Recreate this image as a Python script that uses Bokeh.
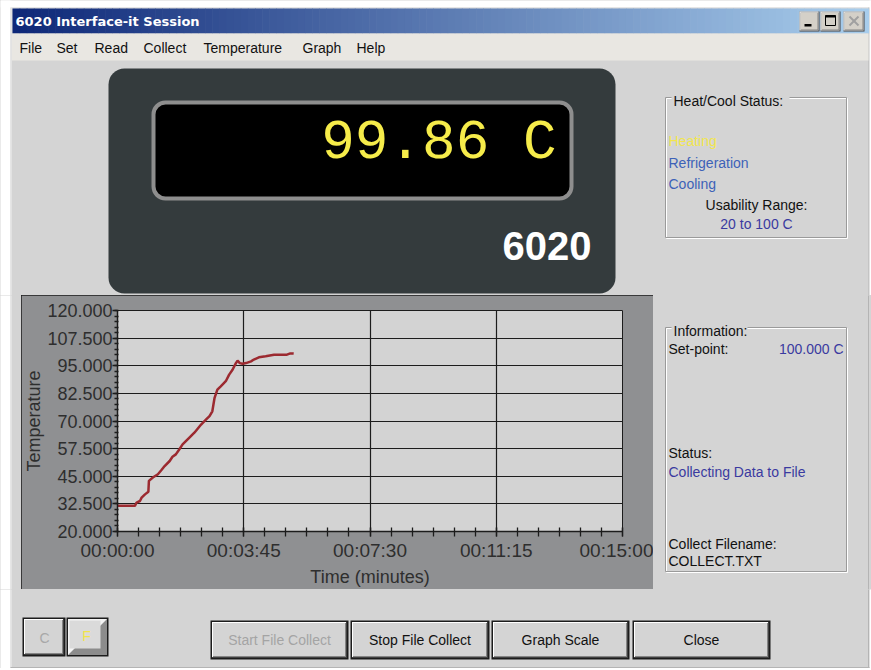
import numpy as np
from bokeh.plotting import figure
from bokeh.layouts import column, row
from bokeh.models import Range1d, FixedTicker, NumeralTickFormatter
from bokeh.core.properties import value
from bokeh.embed import file_html
from bokeh.resources import INLINE

# ---------------- data ----------------
time_s = [0, 31, 34, 40, 43, 49, 55, 56, 63, 72, 78, 84, 93, 98, 104, 110, 116, 125, 137, 149,
          158, 164, 169, 171, 173, 178, 184, 193, 199, 205, 211, 214, 218, 223, 229, 238, 243,
          252, 264, 279, 302, 308, 314]
temperature_c = [31.6, 31.6, 33.1, 33.8, 35.3, 36.8, 38.0, 42.9, 44.4, 45.9, 47.7, 49.6, 51.9,
                 53.8, 54.9, 57.1, 59.4, 61.7, 64.7, 68.4, 70.7, 72.2, 74.4, 77.5, 80.5, 84.2,
                 85.7, 88.0, 91.0, 93.2, 96.2, 97.3, 96.2, 95.9, 96.2, 97.0, 97.8, 98.8, 99.3,
                 100.0, 100.0, 100.6, 100.5]
x_tick_values = [0, 225, 450, 675, 900]
x_tick_labels = ["00:00:00", "00:03:45", "00:07:30", "00:11:15", "00:15:00"]
y_tick_values = [20, 32.5, 45, 57.5, 70, 82.5, 95, 107.5, 120]
reading_text = "99.86 C"
model_text = "6020"
window_title = "6020 Interface-it Session"
menu_items = ["File", "Set", "Read", "Collect", "Temperature", "Graph", "Help"]
status_items = ["Heating", "Refrigeration", "Cooling"]
button_labels = ["Start File Collect", "Stop File Collect", "Graph Scale", "Close"]

# ---------------- layout constants ----------------
menu_x = [19, 56, 94, 143, 203, 302, 356]
status_y = [140, 162, 183]
status_colors = ["#f2e64e", "#3d62b8", "#3d62b8"]
button_x = [(210, 348), (350, 489), (491, 629), (632, 770)]
button_text_colors = ["#a4a4a4", "#111111", "#111111", "#111111"]

CLIENT = "#d4d4d4"
MENU = "#e9e7e2"
DARK = "#1c1c1c"
NAVY = "#3a3aa0"
EDGE = "#b4b4b4"
FONT = "Liberation Sans"


def panel(x0, x1, y0, y1):
    f = figure(width=x1 - x0, height=y1 - y0, x_range=Range1d(x0, x1), y_range=Range1d(y1, y0),
               toolbar_location=None, output_backend="svg", x_axis_location=None,
               y_axis_location=None, outline_line_color=None, frame_align=False,
               background_fill_color=CLIENT, border_fill_color=CLIENT)
    f.min_border_left = f.min_border_right = f.min_border_top = f.min_border_bottom = 0
    f.grid.visible = False
    # window left edge / page margin
    f.quad(left=x0 - 1, right=10, top=y0 - 1, bottom=y1 + 1, fill_color="#ffffff", line_color=None)
    f.quad(left=10, right=11.5, top=y0 - 1, bottom=y1 + 1, fill_color="#e2e2e2", line_color=None)
    return f


def txt(f, x, y, s, size=14, color="#111111", align="left", bold=False, font=FONT):
    f.text(x=[x], y=[y], text=[s], text_font=value(font), text_font_size=f"{size}px",
           text_color=color, text_align=align, text_baseline="middle",
           text_font_style="bold" if bold else "normal")


def bevel(f, x0, y0, x1, y1, face=CLIENT, frame=True):
    if frame:
        f.quad(left=x0, right=x1, top=y0, bottom=y1, fill_color=DARK, line_color=None)
        x0, y0, x1, y1 = x0 + 1.5, y0 + 1.5, x1 - 1.5, y1 - 1.5
    f.quad(left=x0, right=x1, top=y0, bottom=y1, fill_color="#404040", line_color=None)
    f.quad(left=x0, right=x1 - 1, top=y0, bottom=y1 - 1, fill_color="#ffffff", line_color=None)
    f.quad(left=x0 + 1, right=x1 - 1, top=y0 + 1, bottom=y1 - 1, fill_color="#858585", line_color=None)
    f.quad(left=x0 + 1, right=x1 - 2, top=y0 + 1, bottom=y1 - 2, fill_color=face, line_color=None)


def group_box(f, x0, y0, x1, y1, legend, legend_w):
    f.quad(left=x0 + 1, right=x1 + 1, top=y0 + 1, bottom=y1 + 1, fill_color=None,
           line_color="#ffffff", line_width=1)
    f.quad(left=x0, right=x1, top=y0, bottom=y1, fill_color=None, line_color="#9a9a9a", line_width=1)
    f.quad(left=x0 + 6, right=x0 + 8 + legend_w, top=y0 - 6, bottom=y0 + 6, fill_color=CLIENT,
           line_color=None)
    txt(f, x0 + 8, y0 + 3, legend)


# ---------------- top part (title bar, menu, display, heat/cool box) ----------------
top = panel(0, 871, 0, 295)
top.quad(left=0, right=871, top=-1, bottom=7, fill_color="#ffffff", line_color=None)
top.quad(left=10, right=869, top=7, bottom=8, fill_color="#e2e2e2", line_color=None)
top.quad(left=868, right=869, top=7, bottom=296, fill_color=EDGE, line_color=None)
top.quad(left=869, right=872, top=-1, bottom=296, fill_color="#ffffff", line_color=None)

n = 120
edges = np.linspace(12, 868, n + 1)
c0 = np.array([14, 40, 120])
c1 = np.array([168, 205, 236])
cols = ["#%02x%02x%02x" % tuple(int(round(v)) for v in c0 + (c1 - c0) * k / (n - 1)) for k in range(n)]
top.quad(left=edges[:-1], right=edges[1:] + 0.6, top=8, bottom=33, fill_color=cols, line_color=None)
txt(top, 15, 21, window_title, size=13, color="#ffffff", bold=True, font="DejaVu Sans")

# title buttons
for (bx0, bx1) in [(799, 819), (820, 840), (843, 864)]:
    bevel(top, bx0, 11, bx1, 31, face="#d4d0c8", frame=False)
top.quad(left=804, right=811, top=23.5, bottom=26, fill_color="#000000", line_color=None)
top.quad(left=825, right=835, top=15, bottom=25, fill_color=None, line_color="#000000", line_width=1)
top.quad(left=825, right=835, top=15, bottom=17, fill_color="#000000", line_color=None)
top.segment(x0=[849, 858], y0=[16, 16], x1=[858, 849], y1=[25, 25], line_color="#a0a0a0", line_width=2)

# menu bar
top.quad(left=11.5, right=868, top=33, bottom=60, fill_color=MENU, line_color=None)
top.text(x=menu_x, y=[47] * len(menu_items), text=menu_items, text_font=value(FONT),
         text_font_size="14px", text_color="#111111", text_baseline="middle")

# display
top.quad(left=108, right=615, top=68, bottom=293, fill_color="#343b3d", line_color=None,
         border_radius=16)
top.quad(left=153, right=571, top=102, bottom=198, fill_color="#000000", line_color="#8e8e8e",
         line_width=4, border_radius=12)
txt(top, 556, 142, reading_text, size=56, color="#f6ec4a", align="right", font="Liberation Mono")
txt(top, 591, 245, model_text, size=40, color="#ffffff", align="right", bold=True)

# heat / cool status box
group_box(top, 665, 97, 846, 237, "Heat/Cool Status:", 116)
top.text(x=[668] * 3, y=status_y, text=status_items, text_font=value(FONT), text_font_size="14px",
         text_color=status_colors, text_baseline="middle")
txt(top, 756, 204, "Usability Range:", align="center")
txt(top, 756, 223, "20 to 100 C", color=NAVY, align="center")

# ---------------- middle row ----------------
left = panel(0, 21, 295, 589)

chart = figure(width=632, height=294, x_range=Range1d(0, 900), y_range=Range1d(20, 120),
               toolbar_location=None, output_backend="svg", frame_align=False,
               x_axis_label="Time (minutes)", y_axis_label="Temperature",
               background_fill_color="#d3d3d3", border_fill_color="#8f9092",
               outline_line_color=DARK, outline_line_width=1,
               styles={"outline": "1px solid #1c1c1c", "outline-offset": "-1px"})
chart.min_border_left = 95
chart.min_border_right = 31
chart.min_border_top = 15
chart.min_border_bottom = 58

xa = chart.xaxis[0]
ya = chart.yaxis[0]
xa.ticker = FixedTicker(ticks=x_tick_values, minor_ticks=list(np.arange(0, 900.1, 37.5)))
xa.major_label_overrides = {v: l for v, l in zip(x_tick_values, x_tick_labels)}
ya.ticker = FixedTicker(ticks=y_tick_values, minor_ticks=list(np.arange(20, 120.1, 2.5)))
ya.formatter = NumeralTickFormatter(format="0.000")
for ax in (xa, ya):
    ax.axis_line_color = DARK
    ax.axis_line_width = 1.5
    ax.major_tick_line_color = DARK
    ax.minor_tick_line_color = DARK
    ax.major_tick_line_width = 1.3
    ax.minor_tick_line_width = 1.3
    ax.major_label_text_font = FONT
    ax.major_label_text_color = "#2e2e2e"
    ax.axis_label_text_font = FONT
    ax.axis_label_text_font_size = "18px"
    ax.axis_label_text_font_style = "normal"
    ax.axis_label_text_color = "#2e2e2e"
xa.major_label_text_font_size = "19px"
ya.major_label_text_font_size = "18px"
xa.major_tick_in = 4
xa.major_tick_out = 5
xa.minor_tick_in = 4
xa.minor_tick_out = 5
xa.major_label_standoff = 3
xa.axis_label_standoff = 3
ya.major_tick_in = 0
ya.major_tick_out = 5
ya.minor_tick_in = 1
ya.minor_tick_out = 3
ya.major_label_standoff = 0
ya.axis_label_standoff = 0
chart.grid.grid_line_color = DARK
chart.grid.grid_line_alpha = 1
chart.grid.grid_line_width = 1.2

chart.line(time_s, temperature_c, line_color="#9c2a30", line_width=2.5)

right = panel(653, 869, 295, 589)
right.quad(left=867.5, right=869, top=294, bottom=590, fill_color=EDGE, line_color=None)
group_box(right, 665, 327, 846, 571, "Information:", 74)
txt(right, 668, 348, "Set-point:")
txt(right, 843, 348, "100.000 C", color=NAVY, align="right")
txt(right, 668, 452, "Status:")
txt(right, 668, 471, "Collecting Data to File", color=NAVY)
txt(right, 668, 543, "Collect Filename:")
txt(right, 668, 560, "COLLECT.TXT")

# ---------------- bottom ----------------
bottom = panel(0, 871, 589, 668)
bottom.quad(left=867.5, right=869, top=588, bottom=668, fill_color=EDGE, line_color=None)
bottom.quad(left=869, right=872, top=588, bottom=669, fill_color="#ffffff", line_color=None)
bottom.quad(left=10, right=869, top=666.5, bottom=668, fill_color=EDGE, line_color=None)

# C / F buttons
bevel(bottom, 22, 617, 65, 656)
txt(bottom, 44, 637, "C", color="#a8a8a8", align="center")
fx0, fy0, fx1, fy1 = 66, 617, 108, 656
bottom.quad(left=fx0, right=fx1, top=fy0, bottom=fy1, fill_color=DARK, line_color=None)
bottom.quad(left=fx0 + 1.5, right=fx1 - 1.5, top=fy0 + 1.5, bottom=fy1 - 1.5, fill_color="#8c8c8c",
            line_color=None)
bottom.patch(x=[fx0 + 1.5, fx1 - 1.5, fx1 - 8, fx0 + 8, fx0 + 1.5],
             y=[fy0 + 1.5, fy0 + 1.5, fy0 + 8, fy1 - 8, fy1 - 1.5],
             fill_color="#f4f4f4", line_color=None)
bottom.quad(left=fx0 + 3, right=fx1 - 8, top=fy0 + 3, bottom=fy1 - 8, fill_color="#dadada",
            line_color=None)
txt(bottom, 86, 635, "F", color="#f2e44a", align="center")

for (bx0, bx1), lab, tc in zip(button_x, button_labels, button_text_colors):
    bevel(bottom, bx0, 620, bx1, 659)
    txt(bottom, (bx0 + bx1) / 2, 639, lab, color=tc, align="center")

layout = column(top, row(left, chart, right, styles={"background-color": CLIENT}), bottom,
                styles={"background-color": CLIENT})

with open("out.html", "w") as fh:
    fh.write(file_html(layout, INLINE))
